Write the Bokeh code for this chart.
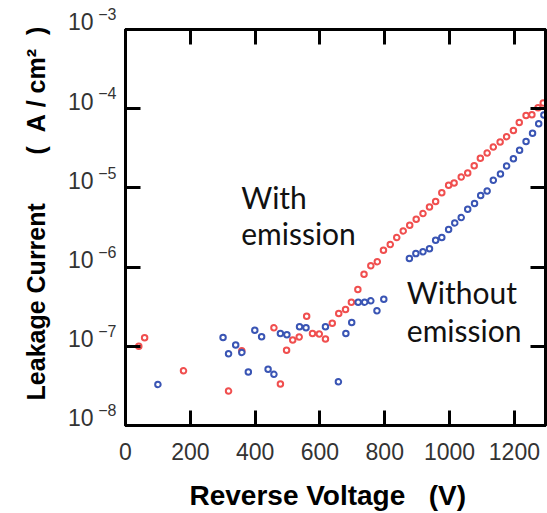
from bokeh.plotting import figure
from bokeh.models import LogAxis, LinearAxis, FixedTicker, Label, Range1d, CustomJSTickFormatter
from bokeh.embed import file_html
from bokeh.resources import INLINE

# ---- data ----
with_v = [41, 59, 179, 318, 359, 458, 478, 497, 516, 536, 559, 577, 598, 617, 638, 658,
          679, 697, 717, 736, 757, 777, 796, 817, 837, 857, 877, 897, 918, 938, 957, 976,
          997, 1014, 1036, 1056, 1076, 1095, 1116, 1135, 1156, 1176, 1197, 1215, 1236,
          1254, 1273, 1289]
with_i = [1.0e-7, 1.28e-7, 4.9e-8, 2.72e-8, 8.8e-8, 1.71e-7, 3.33e-8, 8.9e-8, 1.20e-7,
          1.31e-7, 2.40e-7, 1.45e-7, 1.43e-7, 1.24e-7, 1.96e-7, 2.60e-7, 2.92e-7, 3.61e-7,
          5.21e-7, 8.13e-7, 1.04e-6, 1.17e-6, 1.63e-6, 1.93e-6, 2.36e-6, 2.86e-6, 3.37e-6,
          4.02e-6, 4.74e-6, 5.74e-6, 6.71e-6, 8.71e-6, 1.08e-5, 1.15e-5, 1.37e-5, 1.54e-5,
          1.91e-5, 2.36e-5, 2.75e-5, 3.28e-5, 3.79e-5, 4.44e-5, 5.32e-5, 6.71e-5, 8.22e-5,
          8.39e-5, 1.03e-4, 1.18e-4]

without_v = [100, 301, 318, 340, 359, 379, 399, 420, 440, 458, 478, 498, 537, 557, 617,
             657, 680, 698, 718, 738, 757, 776, 797, 876, 896, 918, 938, 957, 976, 997,
             1016, 1036, 1056, 1077, 1096, 1116, 1135, 1157, 1176, 1197, 1216, 1236, 1256,
             1275, 1291]
without_i = [3.30e-8, 1.29e-7, 8.05e-8, 1.04e-7, 8.38e-8, 4.73e-8, 1.60e-7, 1.32e-7,
             5.12e-8, 4.43e-8, 1.45e-7, 1.40e-7, 1.76e-7, 1.71e-7, 1.76e-7, 3.56e-8,
             1.45e-7, 2.00e-7, 3.61e-7, 3.61e-7, 3.75e-7, 2.81e-7, 3.94e-7, 1.28e-6,
             1.48e-6, 1.56e-6, 1.70e-6, 2.18e-6, 2.36e-6, 2.98e-6, 3.61e-6, 4.22e-6,
             5.37e-6, 6.34e-6, 8.00e-6, 9.14e-6, 1.25e-5, 1.50e-5, 1.89e-5, 2.34e-5,
             2.98e-5, 3.84e-5, 4.89e-5, 6.46e-5, 8.30e-5]

x_ticks = [0, 200, 400, 600, 800, 1000, 1200]
y_exponents = [-8, -7, -6, -5, -4, -3]
NB = "\u00a0"
x_label = "Reverse Voltage" + NB * 3 + "(V)" + NB * 2
y_label = NB * 4 + "Leakage Current" + NB * 7 + "(" + NB * 2 + "A" + NB + "/" + NB + "cm²" + NB * 2 + ")"

# annotation texts and anchor positions (voltage, current)
notes = [("With", 357, 7.6e-6), ("emission", 357, 2.67e-6),
         ("Without", 868, 4.82e-7), ("emission", 868, 1.6e-7)]

RED = "#f04f4f"
BLUE = "#3a55b4"
TICK_COLOR = "#333333"

p = figure(width=547, height=513, x_range=Range1d(0, 1296), y_range=Range1d(1e-8, 1e-3),
           y_axis_type="log", output_backend="svg", toolbar_location=None,
           min_border_left=125, min_border_right=2, min_border_top=29, min_border_bottom=87)
p.xgrid.visible = False
p.ygrid.visible = False
p.outline_line_color = "black"
p.outline_line_width = 3
p.outline_line_alpha = 1.0

y_tick_vals = [10.0 ** k for k in y_exponents]

def style_axis(ax):
    ax.axis_line_color = "black"
    ax.axis_line_width = 3
    ax.major_tick_line_color = "black"
    ax.major_tick_line_width = 3
    ax.major_tick_in = 15
    ax.major_tick_out = 0
    ax.minor_tick_line_color = None

def hide_lines(ax):
    ax.axis_line_color = None
    ax.major_tick_line_color = None
    ax.minor_tick_line_color = None
    ax.major_tick_in = 0
    ax.major_tick_out = 0

# bottom axis
xa = p.xaxis[0]
xa.ticker = FixedTicker(ticks=x_ticks, minor_ticks=[])
style_axis(xa)
xa.major_label_text_font = "Liberation Sans"
xa.major_label_text_font_size = "23px"
xa.major_label_text_color = TICK_COLOR
xa.major_label_standoff = 17
xa.axis_label = x_label
xa.axis_label_text_font = "Liberation Sans"
xa.axis_label_text_font_style = "bold"
xa.axis_label_text_font_size = "28px"
xa.axis_label_text_color = "black"
xa.axis_label_standoff = 17

# left axis: ticks only
ya = p.yaxis[0]
ya.ticker = FixedTicker(ticks=y_tick_vals, minor_ticks=[])
style_axis(ya)
ya.formatter = CustomJSTickFormatter(code="return ''")
ya.major_label_standoff = 0
ya.major_label_text_font_size = "0px"

# exponent labels (raised by a two-line text box)
ye = LogAxis(ticker=FixedTicker(ticks=y_tick_vals, minor_ticks=[]),
             formatter=CustomJSTickFormatter(
                 code="return '\\u2212' + Math.round(-Math.log10(tick)) + '\\n\\u00a0'"))
hide_lines(ye)
ye.major_label_standoff = 9
ye.major_label_text_font = "Liberation Sans"
ye.major_label_text_font_size = "16px"
ye.major_label_text_line_height = 1.75
ye.major_label_text_color = TICK_COLOR
p.add_layout(ye, "left")

# mantissa labels "10"
yd = LogAxis(ticker=FixedTicker(ticks=y_tick_vals, minor_ticks=[]),
             formatter=CustomJSTickFormatter(code="return '10\\n\\u00a0'"))
hide_lines(yd)
yd.major_label_standoff = 2
yd.major_label_text_font = "Liberation Sans"
yd.major_label_text_font_size = "23px"
yd.major_label_text_line_height = 0.55
yd.major_label_text_color = TICK_COLOR
yd.axis_label = y_label
yd.axis_label_text_font = "Liberation Sans"
yd.axis_label_text_font_style = "bold"
yd.axis_label_text_font_size = "25px"
yd.axis_label_text_color = "black"
yd.axis_label_standoff = 15
p.add_layout(yd, "left")

# top and right axes: inward ticks only
top = LinearAxis(ticker=FixedTicker(ticks=x_ticks, minor_ticks=[]),
                 formatter=CustomJSTickFormatter(code="return ''"))
style_axis(top)
top.major_label_standoff = 0
top.major_label_text_font_size = "0px"
p.add_layout(top, "above")

right = LogAxis(ticker=FixedTicker(ticks=y_tick_vals, minor_ticks=[]),
                formatter=CustomJSTickFormatter(code="return ''"))
style_axis(right)
right.major_label_standoff = 0
right.major_label_text_font_size = "0px"
p.add_layout(right, "right")

# data
p.scatter(with_v, with_i, marker="circle", size=5.5, line_width=2,
          line_color=RED, fill_color="white")
p.scatter(without_v, without_i, marker="circle", size=5.5, line_width=2,
          line_color=BLUE, fill_color="white")

# annotations
for txt, xv, yv in notes:
    p.add_layout(Label(x=xv, y=yv, text=txt, text_align="left", text_baseline="alphabetic",
                       text_font="Lato", text_font_size="30px", text_color="#111111"))

open("out.html", "w").write(file_html(p, INLINE))
